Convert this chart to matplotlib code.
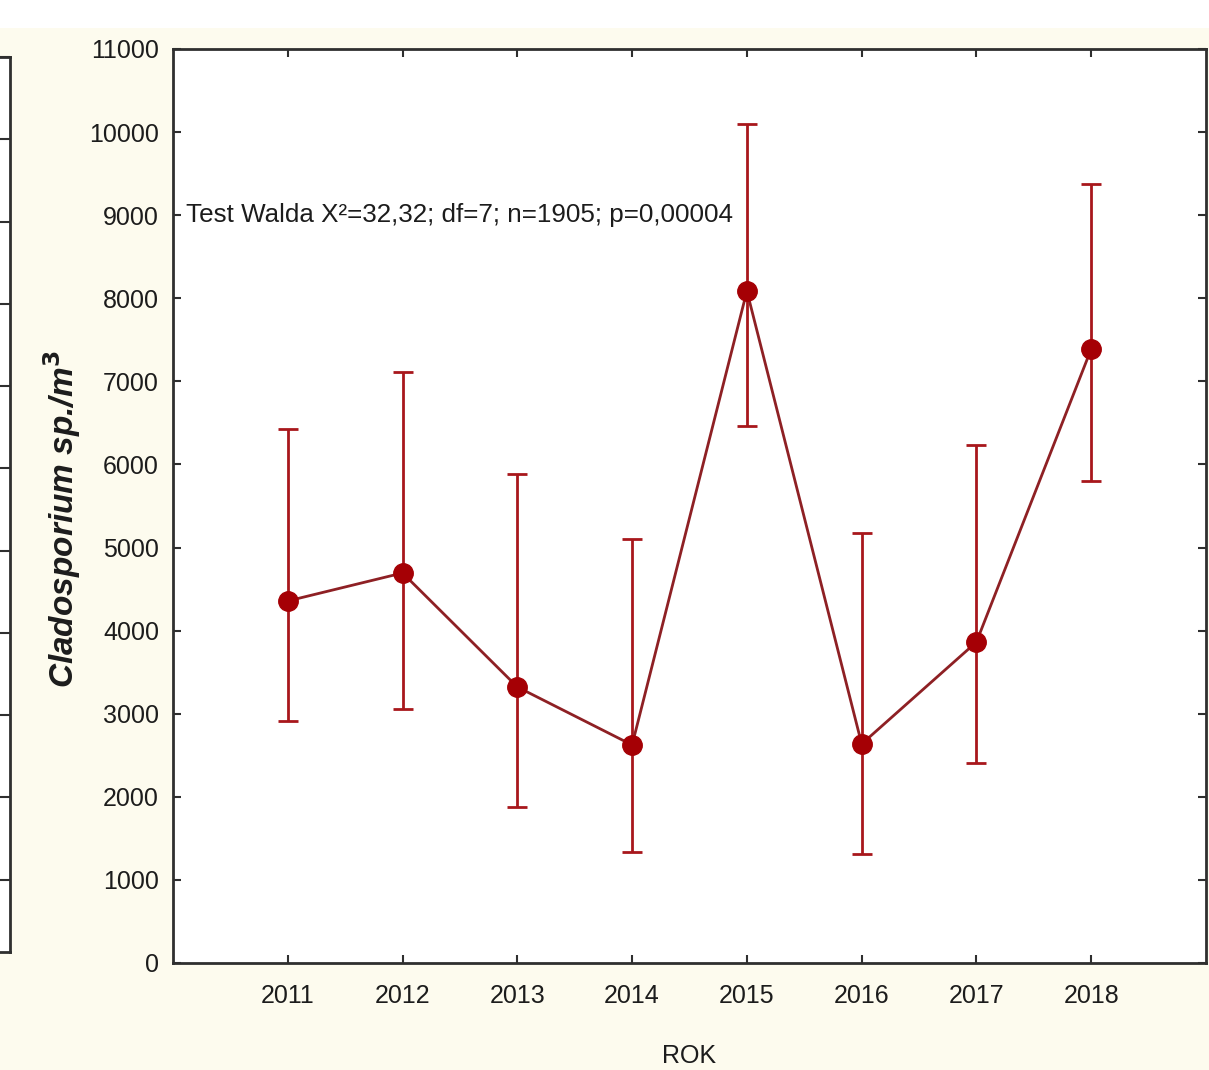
import matplotlib
matplotlib.use("Agg")
import matplotlib.pyplot as plt
from matplotlib.patches import Rectangle

plt.rcParams['font.family'] = ['Liberation Sans', 'DejaVu Sans']

years = [2011, 2012, 2013, 2014, 2015, 2016, 2017, 2018]
means = [4357, 4694, 3322, 2624, 8088, 2636, 3863, 7390]
upper = [6427, 7113, 5885, 5103, 10098, 5175, 6234, 9375]
lower = [2912, 3057, 1877, 1336, 6463, 1312, 2407, 5801]
yticks = list(range(0, 11001, 1000))

bg = '#fdfbee'
red = '#a8171c'
line_col = '#8e2024'
spine_col = '#2f2f2f'
txt_col = '#1c1c1c'

fig = plt.figure(figsize=(12.09, 10.70), dpi=100, facecolor=bg)
fig.patches.append(Rectangle((0, 1 - 28 / 1070), 1, 28 / 1070, transform=fig.transFigure,
                             facecolor='white', edgecolor='none', zorder=0))

# right edge of the neighbouring panel
side = fig.add_axes([-60 / 1209, 118 / 1070, 70 / 1209, 895 / 1070])
side.set_facecolor('white')
side.set_ylim(122, 10890)
side.set_xticks([])
side.set_yticks(yticks[1:])
side.yaxis.tick_right()
side.tick_params(axis='y', direction='in', length=7, width=1.5, color=spine_col, labelright=False)
for s in ['top', 'bottom', 'right']:
    side.spines[s].set_linewidth(2)
    side.spines[s].set_color(spine_col)
side.spines['left'].set_visible(False)

ax = fig.add_axes([173 / 1209, 107 / 1070, 1033 / 1209, 914 / 1070])
ax.set_facecolor('white')

err = [[m - lo for m, lo in zip(means, lower)], [u - m for m, u in zip(means, upper)]]
ax.errorbar(years, means, yerr=err, fmt='none', ecolor=red, elinewidth=2,
            capsize=7, capthick=2, zorder=2)
ax.plot(years, means, color=line_col, lw=2, zorder=3)
ax.plot(years, means, 'o', color='#a50005', markersize=14, zorder=4)

ax.set_xlim(2010, 2019)
ax.set_ylim(0, 11000)
ax.set_xticks(years)
ax.set_yticks(yticks)
ax.tick_params(direction='in', length=6, width=1.5, color=spine_col, labelsize=18,
               labelcolor=txt_col, top=True, right=True)
ax.tick_params(axis='x', pad=15)
ax.tick_params(axis='y', pad=10)
for s in ax.spines.values():
    s.set_linewidth(2)
    s.set_color(spine_col)

ax.set_xlabel('ROK', fontsize=18, color=txt_col, labelpad=26)
fig.text(62 / 1209, 1 - 519 / 1070, 'Cladosporium sp./m$^{\\mathbf{3}}$', rotation=90,
         ha='center', va='center', fontsize=24, fontweight='bold', fontstyle='italic',
         color=txt_col)

ax.text(2010.11, 9000, 'Test Walda X²=32,32; df=7; n=1905; p=0,00004', fontsize=18.7,
        color=txt_col, ha='left', va='center')

fig.savefig('out.png', dpi=100, facecolor=bg)
